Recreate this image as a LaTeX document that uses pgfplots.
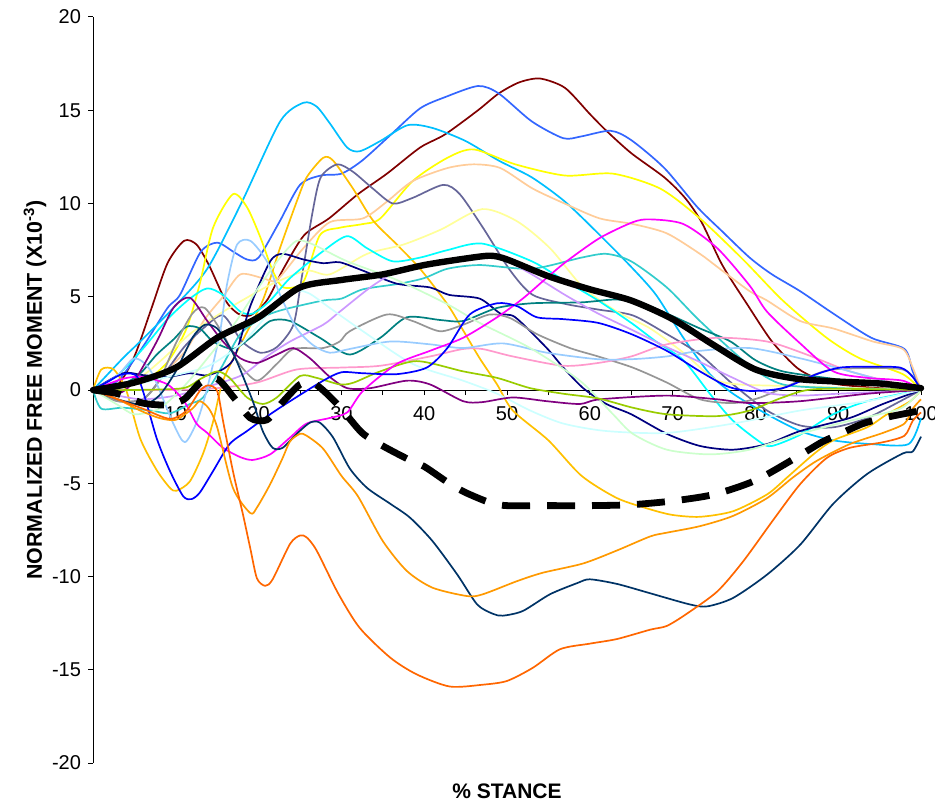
\documentclass[border=0pt]{standalone}
\usepackage{fontspec}
\setmainfont{Liberation Sans}
\usepackage{pgfplots}
\pgfplotsset{compat=1.18}
\definecolor{cMaroon}{HTML}{800000}
\definecolor{cRoyal}{HTML}{3366FF}
\definecolor{cSky}{HTML}{00BFFF}
\definecolor{cYellow}{HTML}{FFFF00}
\definecolor{cGold}{HTML}{FFC000}
\definecolor{cPeach}{HTML}{FFCC99}
\definecolor{cSlate}{HTML}{666699}
\definecolor{cLYellow}{HTML}{FFFF99}
\definecolor{cCyan}{HTML}{00FFFF}
\definecolor{cLSea}{HTML}{33CCCC}
\definecolor{cNavy}{HTML}{000080}
\definecolor{cTeal}{HTML}{008080}
\definecolor{cGray}{HTML}{969696}
\definecolor{cLav}{HTML}{CC99FF}
\definecolor{cPink}{HTML}{FF99CC}
\definecolor{cLBlue}{HTML}{99CCFF}
\definecolor{cPCyan}{HTML}{CCFFFF}
\definecolor{cPGreen}{HTML}{CCFFCC}
\definecolor{cPurple}{HTML}{800080}
\definecolor{cYGreen}{HTML}{99CC00}
\definecolor{cMagenta}{HTML}{FF00FF}
\definecolor{cBlue}{HTML}{0000FF}
\definecolor{cDSlate}{HTML}{003366}
\definecolor{cOrange}{HTML}{FF9900}
\definecolor{cROrange}{HTML}{FF6600}
\begin{document}
\begin{tikzpicture}
\begin{axis}[
  scale only axis, width=414pt, height=373pt,
  xmin=0, xmax=100, ymin=-20, ymax=20,
  axis x line=middle, axis y line=left,
  x axis line style={-, line width=0.5pt},
  y axis line style={-, line width=0.5pt},
  xtick={10,20,...,100}, minor xtick={5,15,...,95},
  ytick={-20,-15,...,20},
  tick align=outside,
  major tick length=2.5pt, minor tick length=2.5pt,
  every tick/.style={black, line width=0.5pt},
  tick label style={font=\fontsize{10}{12}\selectfont},
  xticklabel style={yshift=-2pt},
  /pgf/number format/assume math mode=true,
  xlabel={\bfseries\% STANCE},
  xlabel style={at={(axis description cs:0.5,0)}, anchor=center, yshift=-14pt, font=\fontsize{10.5}{12}\selectfont},
  ylabel={\bfseries NORMALIZED FREE MOMENT (X10\textsuperscript{-3})},
  ylabel style={at={(axis description cs:0,0.5)}, anchor=center, yshift=29pt, font=\fontsize{10.7}{12}\selectfont},
  clip=false,
  every axis plot/.append style={line width=0.85pt, line join=round, mark=none, smooth, tension=0.45},
]
% maroon
\addplot[cMaroon] coordinates {(0,0)(3,0.3)(5,1.8)(7,4.3)(9,6.8)(11,8.0)(12.5,7.8)(14,6.7)(16,4.8)(17.5,4.1)(19,4.0)(21,4.8)(23,6.5)(25.5,8.3)(28.5,9.2)(32,10.5)(35.5,11.6)(39.5,13.0)(42.5,13.7)(46.5,15.0)(49,15.9)(51.5,16.5)(54,16.7)(57,16.2)(60,14.8)(62,13.9)(65,12.7)(69,11.4)(71.5,10.3)(73.5,9.0)(76,6.7)(79,4.6)(82,2.6)(85,1.2)(87.5,0.6)(90,0.3)(95,0.1)(100,0)};
% royal blue
\addplot[cRoyal] coordinates {(0,0)(3,0.5)(6,2.3)(9,4.4)(10.5,5.1)(13,7.4)(15,7.9)(17,7.4)(18.6,7.0)(20,7.1)(22.5,9.0)(25,11.0)(27.5,11.5)(30,11.6)(32.5,12.3)(36,13.7)(39.5,15.1)(42.5,15.7)(46.5,16.3)(49,15.9)(53,14.4)(56.8,13.5)(59,13.6)(62.5,13.9)(65,13.4)(69,11.9)(73,9.8)(76,8.5)(79.3,7.1)(82,6.2)(85.4,5.3)(89.4,4.1)(94,2.8)(98,2.2)(99,1.0)(100,0)};
% deep sky blue
\addplot[cSky] coordinates {(0,0)(3.6,1.7)(5.7,2.6)(9.7,4.4)(13.8,6.5)(18,10.1)(22.6,14.4)(25.4,15.4)(27,15.2)(28.6,14.3)(30.7,13.0)(32.2,12.8)(34.7,13.35)(38,14.2)(41,14.05)(45,13.35)(49,12.3)(53,11.4)(57,10.1)(61,8.4)(65,6.6)(68,5.1)(71.3,2.8)(74.5,0.85)(77.3,-0.2)(81.4,-1.3)(85.4,-2.2)(89.4,-2.7)(94,-2.9)(98.5,-2.9)(100,-1.5)};
% yellow
\addplot[cYellow] coordinates {(0,0)(3,0.3)(6,0.4)(9,1.5)(11.3,3.3)(12.9,5.7)(14.5,8.7)(16.9,10.5)(18.6,9.8)(20.2,8.2)(21.7,6.4)(23,5.5)(25.4,5.8)(27.4,8.3)(29.8,8.7)(32.6,8.9)(34.7,9.2)(38.6,11.2)(42.8,12.45)(46,12.9)(51,12.1)(57,11.5)(62.8,11.6)(68.5,10.8)(73.3,9.2)(78.5,7.0)(83.3,4.8)(88.6,2.8)(92.6,1.7)(97.8,0.85)(100,0)};
% gold
\addplot[cGold] coordinates {(0,0)(1,1.1)(2.5,1.1)(4,0)(5.7,-2.6)(7.7,-4.3)(9.3,-5.25)(10.1,-5.4)(11.7,-4.9)(13.3,-3.4)(14.5,-1.7)(15.7,0.5)(18,2.6)(20.5,4.8)(22.5,7.5)(24.6,10.1)(25.8,11.4)(27.8,12.45)(29,12.3)(31.4,10.8)(33.8,9.1)(36.7,7.8)(39.5,6.5)(42.8,4.6)(44.7,3.2)(46.7,1.7)(48.8,0.3)(50.7,-1.1)(55,-2.7)(59,-4.6)(63.3,-5.8)(67.3,-6.4)(70,-6.7)(73.3,-6.8)(77.3,-6.5)(81.4,-5.6)(83.8,-4.7)(87,-3.45)(89.4,-2.7)(93.5,-2.0)(95.9,-1.3)(98.7,-0.6)(100,0)};
% peach
\addplot[cPeach] coordinates {(0,0)(5,0.3)(8,0.8)(11,2.0)(13.5,3.8)(15.7,5.0)(17.8,6.2)(20.5,6.0)(22.2,5.9)(25.4,7.6)(28.6,9.0)(32.6,9.2)(35.5,10.1)(38.6,11.2)(42.8,11.9)(46,12.1)(49.2,11.9)(53.1,10.8)(57.2,9.95)(61.2,9.2)(65.2,8.9)(69.3,8.4)(73.3,7.3)(75.4,6.6)(79.3,5.3)(81.4,4.8)(85.4,3.7)(89.4,3.3)(94.2,2.6)(97.8,2.2)(99,1.2)(100,0)};
% slate
\addplot[cSlate] coordinates {(0,0)(3,-0.6)(6,-0.5)(8,0.5)(11,2.3)(13.3,3.3)(15.7,4.0)(18,2.6)(20.2,2.0)(22.2,2.3)(24.2,3.5)(25.2,6)(26.5,9.5)(27.5,11.4)(29.5,12.1)(31.4,11.7)(33.8,10.8)(36.2,10.0)(38.6,10.3)(42.3,11.0)(44.3,10.5)(47.1,8.7)(50.4,6.4)(53.1,5.1)(57.2,4.6)(61.2,4.3)(65.2,4.0)(69.3,3.0)(73.3,1.9)(77.3,0.3)(81.4,-1.1)(85.4,-1.9)(89.4,-2.0)(93.5,-1.5)(97.5,-0.6)(100,0)};
% light yellow
\addplot[cLYellow] coordinates {(0,0)(5,0.5)(8,1.5)(11.7,3.0)(15,4.0)(18,4.8)(21.7,5.7)(25.8,6.4)(28.6,6.2)(33.1,7.3)(37.5,7.8)(42,8.6)(47,9.7)(51.2,9.05)(55.2,7.6)(59.2,5.5)(63.3,4.2)(67.3,3.3)(71.3,2.0)(75,0.6)(78,0.3)(85,0.2)(100,0)};
% cyan
\addplot[cCyan] coordinates {(0,0)(3,0.8)(6,2.2)(9,3.8)(11.7,4.9)(13.8,5.45)(15.7,5.1)(17.8,4.2)(19.3,4.1)(21.4,4.8)(23.8,6.0)(27.8,7.45)(30.7,8.25)(33.1,7.6)(36.2,6.9)(39.5,7.1)(42.8,7.5)(47,7.85)(53,6.9)(57,5.85)(61,4.8)(65,3.6)(68,2.6)(71.3,1.6)(74.5,-0.2)(77.3,-1.65)(80.6,-2.8)(82,-3.0)(85.4,-2.4)(89.4,-1.3)(93.5,-0.6)(100,0)};
% light sea green
\addplot[cLSea] coordinates {(0,0)(1,-1.0)(3.6,-0.95)(7,-1.1)(9.3,-1.25)(11.7,-0.75)(13.3,-0.4)(15.5,1.2)(17.8,3.0)(20.5,3.9)(22.9,4.3)(27.8,4.8)(30,4.9)(32.6,5.4)(37,5.7)(40,6.0)(42.8,6.5)(46.7,6.7)(53,6.5)(59,7.1)(62,7.3)(65,6.9)(69.3,5.5)(73.3,3.7)(79.3,1.3)(83.3,0.3)(90,0.1)(100,0)};
% navy
\addplot[cNavy] coordinates {(0,0)(3.6,0.9)(6,0.8)(9,0.7)(11.7,0.9)(14,0.8)(16.9,1.6)(19,4.5)(21.4,6.9)(22.9,7.3)(25.4,7.0)(27.8,6.8)(29.8,6.85)(32.6,6.4)(36.7,5.7)(40.7,5.5)(43,5.1)(46.7,4.9)(49.2,4.1)(51,3.9)(54.8,2.25)(56.8,1.2)(59.2,0.1)(62,-0.75)(65,-1.3)(69.3,-2.35)(73.3,-3.0)(77.3,-3.2)(81.4,-2.9)(85.4,-2.2)(91.4,-1.5)(95.4,-0.75)(100,0)};
% teal
\addplot[cTeal] coordinates {(0,0)(3,0.2)(5.5,0.8)(7.7,1.9)(9.7,2.7)(11.3,3.4)(12.9,3.3)(14.5,2.6)(16.9,2.2)(19,2.8)(21.4,3.7)(23.8,3.7)(27.4,2.8)(31,1.9)(34.7,2.8)(37.9,3.9)(42,3.75)(44.7,3.7)(48.8,4.4)(53,4.65)(59,4.7)(63,4.85)(66,4.7)(69.3,4.1)(73.3,3.3)(77,2.6)(80,1.6)(83.3,1.0)(89.4,0.6)(95,0.3)(100,0)};
% gray
\addplot[cGray] coordinates {(0,0)(3,-0.6)(6,-0.5)(8,0.5)(10,2.5)(12,4.1)(13.5,4.4)(15.7,3.0)(17.5,1.5)(19.8,0.5)(22.2,1.4)(24.2,2.2)(27.8,2.25)(29.8,2.6)(31,3.15)(35.5,4.05)(38.6,3.7)(41.9,3.15)(44.7,3.5)(47.9,4.05)(50.4,3.85)(53.6,3.0)(57.6,2.25)(61,1.8)(65.2,1.2)(69.3,0.4)(73.3,-0.5)(77.3,-0.7)(80.6,-0.4)(85.4,0.5)(89.4,1.1)(97.8,1.1)(100,0)};
% lavender
\addplot[cLav] coordinates {(0,0)(3,-0.3)(6,-0.5)(10,-0.3)(14,0.2)(18,0.8)(21,1.8)(23.8,2.6)(27.8,3.5)(29.8,4.2)(33.8,5.6)(37,6.4)(42,6.9)(47,7.2)(50,6.9)(53,6.2)(57,5.1)(61,4.1)(65.2,3.2)(69.3,2.3)(73.3,1.5)(77.3,0.65)(81.4,-0.15)(85.4,-0.3)(90,-0.2)(100,0)};
% pink
\addplot[cPink] coordinates {(0,0)(10,0.0)(15,0.1)(19.8,0.4)(24.6,1.1)(29.8,1.2)(34.7,1.3)(40.7,1.8)(44.7,2.2)(47,2.2)(50.7,1.8)(56.8,1.3)(61,1.45)(65,1.8)(69.3,2.45)(75.4,2.8)(81.4,2.6)(86.2,1.9)(91.4,1.0)(97.5,0.3)(100,0)};
% light sky blue
\addplot[cLBlue] coordinates {(0,0)(3,0.8)(5,1.7)(7,1.0)(9.7,-1.8)(11.1,-2.8)(12.6,-1.65)(13.8,0.1)(15.3,3.0)(16.2,5.7)(17.4,7.8)(19,8.0)(21,6.9)(22.6,5.1)(24.6,3.3)(26.6,2.4)(28.6,2.0)(31,2.2)(35.9,2.6)(40.7,2.45)(44.7,2.25)(49.5,2.5)(54.8,2.0)(61,1.65)(65,1.65)(69.3,1.8)(73.3,2.1)(79.3,2.25)(85.4,1.7)(91.4,1.0)(97,0.3)(100,0)};
% pale cyan
\addplot[cPCyan] coordinates {(0,0)(5,0.3)(10,0.8)(14,1.3)(18,2.5)(21,4.0)(23.8,5.3)(26,5.2)(28.6,4.4)(32.6,3.15)(38.6,1.4)(44.7,0.5)(48.8,-0.2)(52.8,-1.1)(56.8,-1.8)(62,-2.2)(69.3,-2.3)(77.3,-1.8)(85.4,-1.1)(93.5,-0.6)(100,0)};
% pale green
\addplot[cPGreen] coordinates {(0,0)(3,-0.8)(5,-1.3)(8,-1.0)(11,0.2)(14,1.8)(17,3.5)(20,5.5)(22.6,7.1)(24.6,8.0)(26.6,7.8)(30.7,6.9)(36.7,5.9)(42.8,4.6)(46.7,3.6)(52.8,2.25)(58.8,0.5)(62.8,-1.3)(65.2,-2.35)(69.3,-3.2)(74.5,-3.45)(79.3,-3.2)(85.4,-2.35)(91.4,-1.65)(97.5,-1.0)(100,0)};
% purple
\addplot[cPurple] coordinates {(0,0)(3,-0.2)(5,0.5)(7.7,2.6)(9.7,4.4)(11.7,4.95)(13.8,3.7)(15.7,2.6)(17.8,1.7)(19.8,1.45)(22.2,1.9)(24.2,2.25)(26.2,1.7)(28.6,0.7)(30.7,0.1)(33.5,0.1)(37.9,0.5)(40.7,0.3)(44.7,-0.6)(47,-0.65)(50.7,-0.4)(54.8,-0.6)(58.8,-0.75)(61.2,-0.5)(69.3,-0.3)(75.4,-0.5)(79.3,-0.7)(85.4,-0.6)(93.5,-0.2)(100,0)};
% yellow green
\addplot[cYGreen] coordinates {(0,0)(5,0.0)(10.9,0.1)(13,0.6)(15,1.0)(16.5,0.65)(18.6,-0.4)(20.5,-0.75)(22.2,-0.4)(25,0.75)(27,0.65)(29.8,0.3)(31.5,0.4)(34.7,1.0)(39.1,1.55)(44.7,1.0)(48.8,0.65)(52.8,0.1)(56.8,-0.2)(61,-0.45)(65.2,-0.95)(69.3,-1.3)(75.4,-1.4)(79.3,-1.1)(83.3,-0.4)(87.4,0.05)(100,0)};
% magenta
\addplot[cMagenta] coordinates {(0,0)(3.6,0.6)(6,0.7)(9,0.3)(11,-0.6)(12.5,-1.8)(13.8,-2.3)(15.7,-3.1)(17.8,-3.6)(19.3,-3.75)(21.4,-3.45)(23.8,-2.55)(25.8,-1.8)(28.6,-1.5)(30.7,-1.2)(32.6,-0.05)(36.7,1.4)(40.7,2.1)(44.7,2.8)(48.8,3.9)(51.9,4.9)(54.5,5.9)(57.2,6.9)(61.2,8.15)(65.2,9.0)(67.3,9.15)(71.3,8.9)(75.4,7.6)(79.3,5.6)(81.4,4.2)(85.4,2.5)(89.4,1.0)(93.5,0.65)(97.8,0.5)(100,0)};
% blue
\addplot[cBlue] coordinates {(0,0)(2,0.5)(3.6,0.85)(5.5,0.6)(7.7,-2.6)(9.3,-4.35)(10.9,-5.7)(11.9,-5.85)(12.9,-5.5)(14.5,-4.35)(16.5,-2.9)(18.6,-2.2)(21.4,-1.3)(23.8,-0.6)(27.8,0.5)(30,0.95)(32.6,0.9)(36.7,0.85)(40.3,1.2)(42.8,2.25)(45.5,4.05)(48.8,4.65)(51.2,4.5)(53.6,3.9)(56.8,3.8)(61,3.6)(65,3.0)(69.3,2.1)(73.3,1.0)(76.6,0.2)(79.3,-0.05)(83.3,0.1)(87.4,0.85)(90.2,1.2)(93.5,1.25)(97.5,1.2)(99,0.7)(100,0)};
% dark slate blue
\addplot[cDSlate] coordinates {(0,0)(3,-0.5)(6,-0.8)(8,-0.3)(10,1.0)(12,2.8)(13.5,3.5)(15,3.3)(16.5,2.3)(17.4,1.5)(19.3,-0.6)(20.5,-2.2)(21.7,-3.1)(22.9,-3.1)(24.6,-2.35)(26.2,-1.75)(27.4,-1.75)(29,-2.55)(31,-4.2)(33.1,-5.25)(35.9,-6.1)(38.3,-6.85)(41,-8.1)(44,-9.9)(46.4,-11.5)(48.3,-12.0)(49.5,-12.1)(51.9,-11.85)(55.2,-10.95)(58.5,-10.35)(60,-10.15)(63.3,-10.4)(67.3,-10.9)(72.1,-11.5)(74.2,-11.6)(77.3,-11.15)(81.4,-9.9)(85.4,-8.3)(89.4,-6.1)(93.5,-4.5)(97.8,-3.4)(99,-3.3)(100,-2.5)};
% orange
\addplot[cOrange] coordinates {(0,0)(3,-0.5)(5.7,-1.1)(8,-1.5)(10,-1.6)(12,-1.0)(12.9,-0.6)(14,-1.0)(15,-2.0)(16.9,-5.25)(19,-6.6)(19.8,-6.3)(21.4,-5.05)(22.9,-3.65)(23.8,-2.75)(25,-2.35)(25.8,-2.45)(27.8,-3.15)(30,-4.6)(32,-5.7)(35,-8.1)(37.9,-9.7)(41,-10.6)(45.2,-11.05)(47.1,-10.95)(51.2,-10.25)(54.3,-9.8)(59.2,-9.3)(63.3,-8.6)(67.3,-7.85)(69.3,-7.65)(73.3,-7.3)(77.3,-6.75)(81.4,-5.8)(84.5,-4.7)(87.4,-3.8)(91.4,-2.9)(95.4,-2.3)(98,-1.8)(99,-1.0)(100,-0.5)};
% red orange
\addplot[cROrange] coordinates {(0,0)(3,-0.5)(6,-1.0)(9.3,-1.55)(11.3,-1.1)(12.9,-0.05)(13.9,0.25)(15,-0.05)(15.7,-1.65)(16.9,-4.35)(18.1,-6.65)(19,-8.5)(19.8,-10.1)(20.8,-10.5)(21.7,-10.15)(23.8,-8.25)(25,-7.8)(25.8,-7.9)(27,-8.6)(29.6,-10.9)(32.2,-12.75)(35.9,-14.35)(39.1,-15.25)(43.1,-15.9)(47.1,-15.8)(50,-15.6)(53.1,-14.9)(56.4,-13.9)(60,-13.6)(63.3,-13.35)(67.3,-12.85)(69.3,-12.65)(71.7,-12.0)(75.4,-10.8)(78.5,-9.2)(82.1,-7.0)(85.4,-5.05)(88.6,-3.65)(91.4,-3.1)(95.4,-2.8)(98,-2.45)(99,-1.65)(100,-1.2)};
% dashed black
\addplot[black, line width=3.4pt, dash pattern=on 14pt off 8.5pt, line cap=butt] coordinates {(0,0)(3,-0.2)(6,-0.7)(9,-0.8)(11,-0.5)(13,0.4)(15,0.6)(17,-0.4)(19,-1.5)(21,-1.6)(23,-0.6)(25,0.3)(26.5,0.4)(28,-0.1)(30,-1.0)(32.5,-2.3)(35,-3.0)(38,-3.7)(40,-4.1)(43,-5.0)(45,-5.5)(48,-6.05)(50,-6.2)(55,-6.2)(60,-6.2)(65,-6.15)(70,-5.95)(75,-5.6)(80,-4.85)(85,-3.6)(88,-2.8)(90,-2.4)(93,-1.8)(96,-1.45)(100,-1.1)};
% mean black
\addplot[black, line width=3.2pt, line cap=round] coordinates {(0,0)(5,0.4)(10,1.2)(15,2.8)(20,3.9)(25,5.5)(30,5.9)(35,6.2)(40,6.7)(45,7.05)(48,7.2)(50,7.0)(55,6.1)(60,5.4)(65,4.8)(70,3.8)(75,2.4)(80,1.1)(85,0.6)(90,0.45)(95,0.35)(100,0.1)};
\coordinate (sw) at (rel axis cs:0,0);
\coordinate (ne) at (rel axis cs:1,1);
\end{axis}
\pgfresetboundingbox
\path (sw) ++(-46.5pt,-20.5pt) rectangle ([xshift=7pt,yshift=8.5pt]ne);
\end{tikzpicture}
\end{document}
